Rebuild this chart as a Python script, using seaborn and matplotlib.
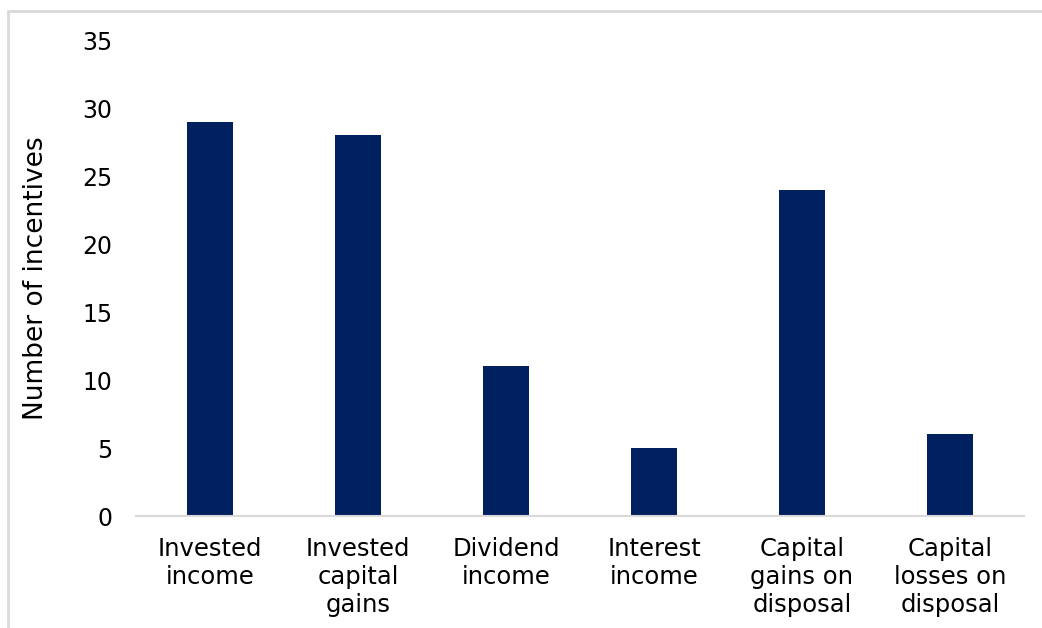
import matplotlib
matplotlib.use("Agg")
import matplotlib.pyplot as plt
from matplotlib.patches import Rectangle
import seaborn as sns
import pandas as pd

categories = [
    "Invested\nincome",
    "Invested\ncapital\ngains",
    "Dividend\nincome",
    "Interest\nincome",
    "Capital\ngains on\ndisposal",
    "Capital\nlosses on\ndisposal",
]
incentives = [29, 28, 11, 5, 24, 6]
y_ticks = [0, 5, 10, 15, 20, 25, 30, 35]

sns.set_theme(style="white")
plt.rcParams["font.family"] = ["DejaVu Sans"]

df = pd.DataFrame({"category": categories, "count": incentives})

fig = plt.figure(figsize=(10.42, 6.28), dpi=100)
ax = fig.add_axes([136 / 1042, 1 - 516 / 628, (1024 - 136) / 1042, (516 - 40) / 628])

sns.barplot(data=df, x="category", y="count", color="#002060", width=0.31,
            saturation=1, linewidth=0, ax=ax)

ax.set_ylim(0, 35)
ax.set_yticks(y_ticks)
ax.set_xlim(-0.5, len(categories) - 0.5)
ax.tick_params(axis="y", length=0, pad=17, labelsize=17, labelcolor="#000000")
ax.tick_params(axis="x", length=0, pad=15, labelsize=17.5, labelcolor="#000000")
for lbl in ax.get_xticklabels():
    lbl.set_linespacing(1.22)
    lbl.set_verticalalignment("top")

ax.set_xlabel("")
ax.set_ylabel("Number of incentives", fontsize=19, color="#000000", labelpad=24)

for side in ("top", "right", "left"):
    ax.spines[side].set_visible(False)
ax.spines["bottom"].set_color("#d9d9d9")
ax.spines["bottom"].set_linewidth(1.5)

# light frame around the chart area
fig.add_artist(Rectangle((8 / 1042, -0.05), 1.2, 1.05 - 11 / 628,
                         transform=fig.transFigure, fill=False,
                         edgecolor="#d9d9d9", linewidth=2, clip_on=False))

fig.savefig("out.png", dpi=100)
